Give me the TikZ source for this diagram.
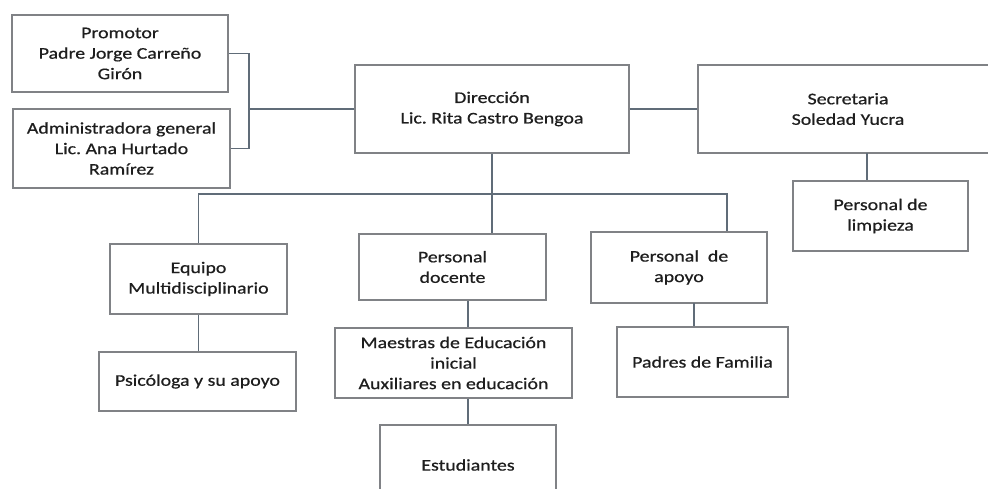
\documentclass[tikz,border=0pt]{standalone}
\usepackage{fontspec}
\setmainfont{Carlito}[FakeStretch=1.22,FakeBold=0.6]
\usetikzlibrary{positioning}
\frenchspacing

\definecolor{boxline}{RGB}{128,130,134}
\definecolor{linkline}{RGB}{96,108,120}
\definecolor{txt}{RGB}{30,30,30}

\tikzset{
  cargo/.style={draw=boxline, line width=1.2pt, fill=white, text=txt, align=center,
    inner sep=2pt, font=\fontsize{16.3}{20.5}\selectfont},
  enlace/.style={draw=linkline, line width=1.2pt}
}

\begin{document}
\begin{tikzpicture}[x=1pt,y=-1pt]
  \useasboundingbox (0,0) rectangle (988,488);

  % cargos
  \node[cargo, minimum width=216pt, minimum height=77pt] (prom) at (120,53.5)
    {Promotor\\Padre Jorge Carreño\\Girón};
  \node[cargo, minimum width=217pt, minimum height=79pt] (admin) at (121.5,148.5)
    {Administradora general\\Lic. Ana Hurtado\\Ramírez};
  \node[cargo, minimum width=274pt, minimum height=88pt] (dir) at (492,109)
    {Dirección\\Lic. Rita Castro Bengoa};
  \node[cargo, minimum width=300pt, minimum height=88pt] (sec) at (848,109)
    {Secretaria\\Soledad Yucra};
  \node[cargo, minimum width=175pt, minimum height=70pt] (limp) at (880.5,216)
    {Personal de\\limpieza};
  \node[cargo, minimum width=177pt, minimum height=70pt] (equipo) at (198.5,279)
    {Equipo\\Multidisciplinario};
  \node[cargo, minimum width=187pt, minimum height=66pt] (doc) at (452.5,267)
    {Personal\\docente};
  \node[cargo, minimum width=176pt, minimum height=71pt] (apoyo) at (679,267.5)
    {Personal~ de\\apoyo};
  \node[cargo, minimum width=237pt, minimum height=70pt] (maest) at (453.5,363)
    {Maestras de Educación\\inicial\\Auxiliares en educación};
  \node[cargo, minimum width=171pt, minimum height=70pt] (padres) at (702.5,362)
    {Padres de Familia};
  \node[cargo, minimum width=197pt, minimum height=59pt] (psico) at (197.5,381.5)
    {Psicóloga y su apoyo};
  \node[cargo, minimum width=176pt, minimum height=80pt] (estud) at (468,465)
    {Estudiantes};

  % puntos de enlace
  \coordinate (brk) at (249,109);
  \coordinate (bus) at (727,194);
  \coordinate (secl) at (867,153);
  \coordinate (apoyol) at (694,303);

  % enlaces
  \draw[enlace] (prom.east) -| (brk) |- (admin.east);
  \draw[enlace] (brk) -- (dir.west);
  \draw[enlace] (dir.east) -- (sec.west);
  \draw[enlace] (secl) -- (secl |- limp.north);
  \draw[enlace] (dir.south) -- (dir.south |- doc.north);
  \draw[enlace] (equipo.north) |- (bus) -- (bus |- apoyo.north);
  \draw[enlace] (equipo.south) -- (equipo.south |- psico.north);
  \draw[enlace] (estud.north |- doc.south) -- (estud.north |- maest.north);
  \draw[enlace] (estud.north |- maest.south) -- (estud.north);
  \draw[enlace] (apoyol) -- (apoyol |- padres.north);
\end{tikzpicture}
\end{document}
